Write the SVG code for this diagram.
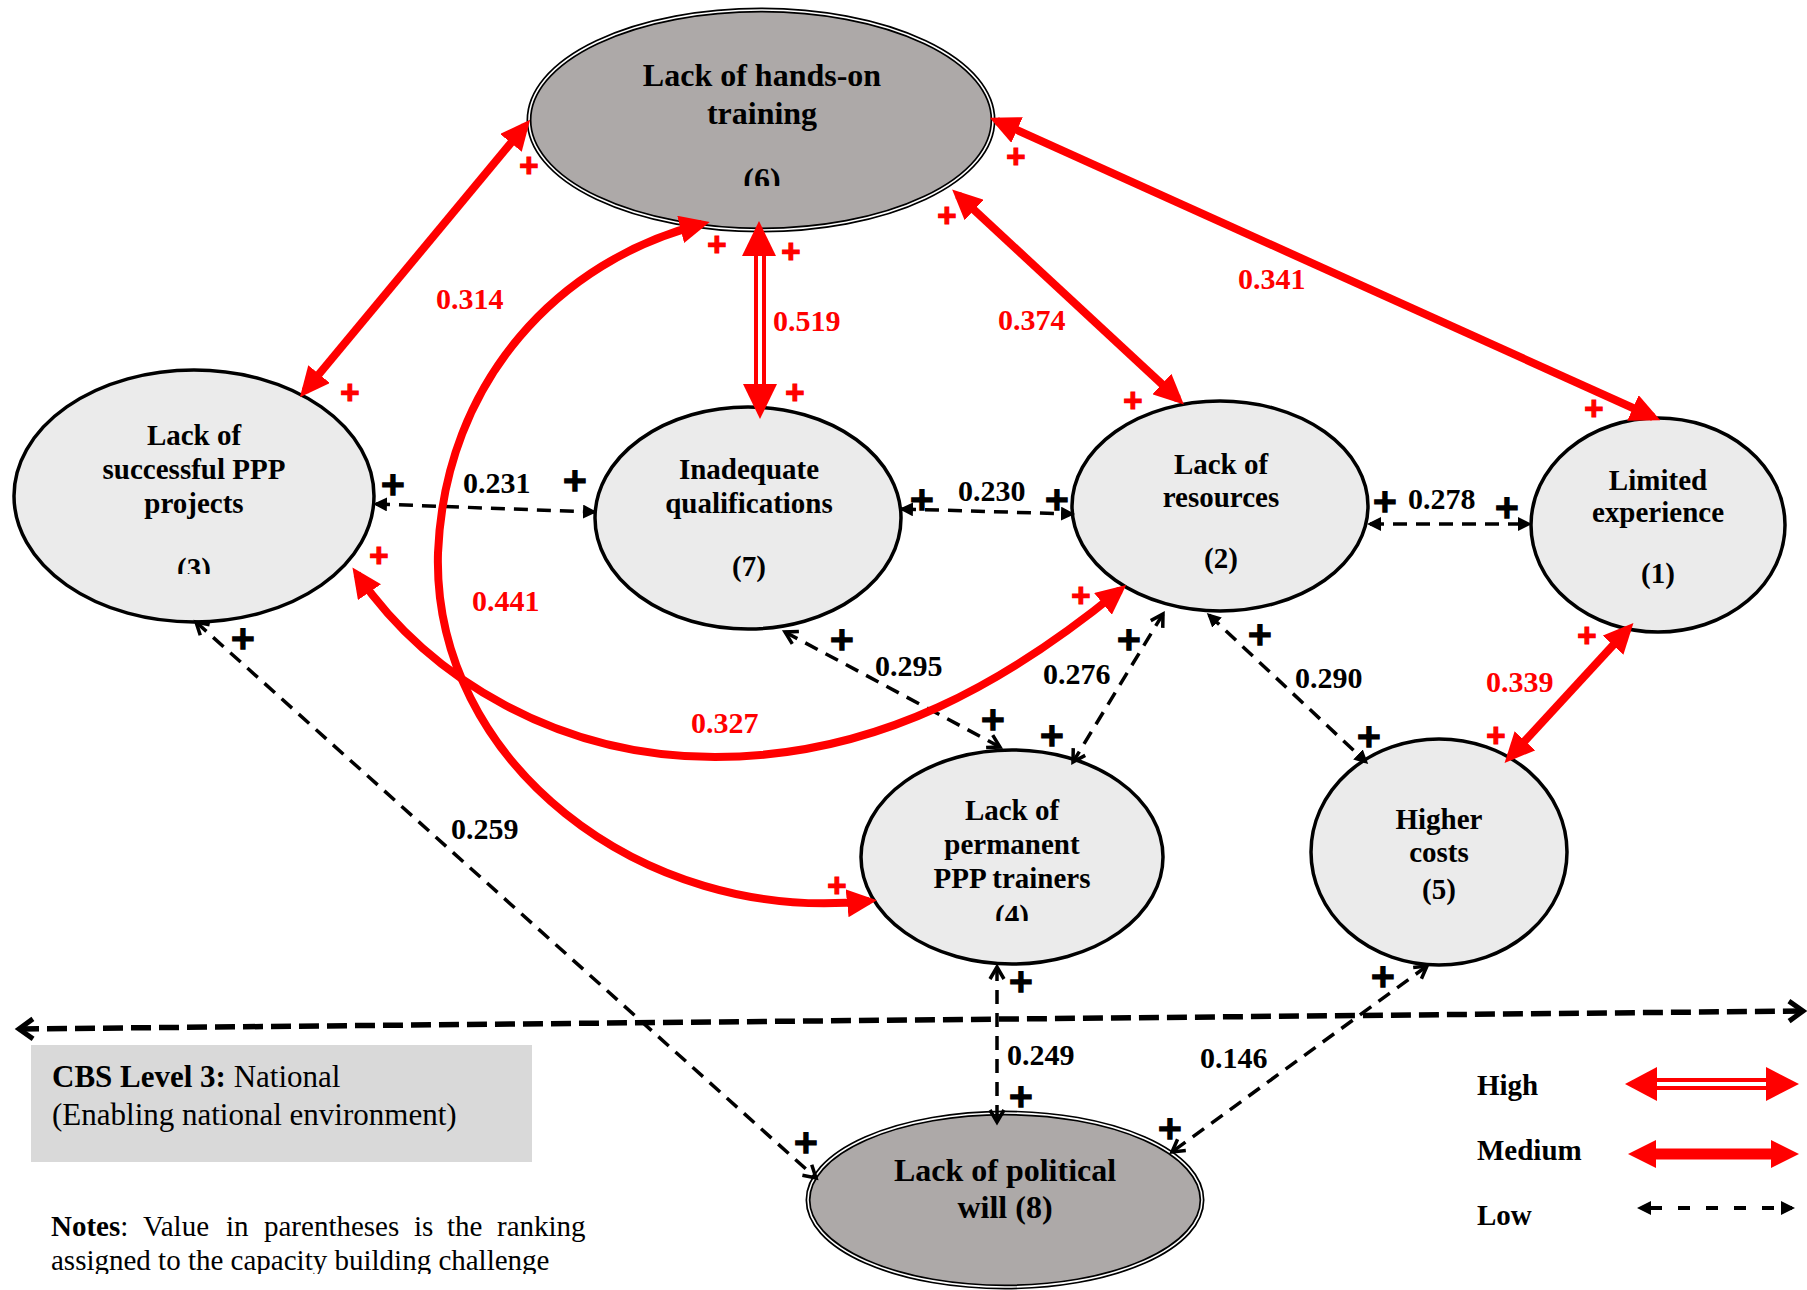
<svg xmlns="http://www.w3.org/2000/svg" width="1807" height="1290" viewBox="0 0 1807 1290">
<style>
.nt{font-family:"Liberation Serif","Times New Roman",serif;font-weight:bold;font-size:29px;fill:#000;text-anchor:middle}
.ntb{font-family:"Liberation Serif","Times New Roman",serif;font-weight:bold;font-size:32px;fill:#000;text-anchor:middle}
.lg{font-family:"Liberation Serif","Times New Roman",serif;font-weight:bold;font-size:29px;fill:#000}
.wn{fill:#EBEBEB;stroke:#000;stroke-width:3.5}
.gn{fill:#ADA9A8;stroke:#000;stroke-width:5}
.gn2{fill:none;stroke:#fff;stroke-width:1.6}
.med{fill:none;stroke:#FF0000;stroke-width:8;marker-start:url(#mr);marker-end:url(#mr)}
.low{fill:none;stroke:#000;stroke-width:3.5;stroke-dasharray:14 9}
.tri{marker-start:url(#mt);marker-end:url(#mt)}
.chv{marker-start:url(#mc);marker-end:url(#mc)}
.lbl{font-family:"Liberation Serif","Times New Roman",serif;font-weight:bold;font-size:30px;fill:#000}
.rl{fill:#FF0000}
.pb{font-family:"DejaVu Sans",sans-serif;font-weight:bold;font-size:32px;fill:#000;stroke:#000;stroke-width:1.6;text-anchor:middle}
.pr{font-family:"Liberation Sans",Arial,sans-serif;font-weight:bold;font-size:33px;fill:#FF0000;stroke:#FF0000;stroke-width:1.2;text-anchor:middle}
.tx{font-family:"Liberation Serif","Times New Roman",serif;font-size:31px;fill:#000}
</style>
<defs>
<marker id="mr" viewBox="0 0 30 28" refX="22" refY="14" markerWidth="30" markerHeight="28" markerUnits="userSpaceOnUse" orient="auto-start-reverse"><path d="M0,0 L30,14 L0,28 Z" fill="#FF0000"/></marker>
<marker id="mt" viewBox="0 0 14 14" refX="11" refY="7" markerWidth="14" markerHeight="14" markerUnits="userSpaceOnUse" orient="auto-start-reverse"><path d="M0,0 L14,7 L0,14 Z" fill="#000"/></marker>
<marker id="mc" viewBox="0 0 14 16" refX="13" refY="8" markerWidth="14" markerHeight="16" markerUnits="userSpaceOnUse" orient="auto-start-reverse" overflow="visible"><path d="M1,1 L13,8 L1,15" fill="none" stroke="#000" stroke-width="3.5" stroke-dasharray="none"/></marker>
<marker id="mcL" viewBox="0 0 16 22" refX="15" refY="11" markerWidth="16" markerHeight="22" markerUnits="userSpaceOnUse" orient="auto-start-reverse" overflow="visible"><path d="M1,1 L15,11 L1,21" fill="none" stroke="#000" stroke-width="5" stroke-dasharray="none"/></marker>
<clipPath id="c6"><rect x="0" y="0" width="1807" height="186"/></clipPath>
<clipPath id="c3"><rect x="0" y="0" width="1807" height="574"/></clipPath>
<clipPath id="c4"><rect x="0" y="0" width="1807" height="921"/></clipPath>
<clipPath id="cn"><rect x="0" y="0" width="1807" height="1274"/></clipPath>
</defs>

<rect x="0" y="0" width="1807" height="1290" fill="#fff"/>

<g id="box-cbs">
<rect x="31" y="1045" width="501" height="117" fill="#D9D9D9"/>
<text class="tx" x="52" y="1087"><tspan font-weight="bold">CBS Level 3:</tspan> National</text>
<text class="tx" x="52" y="1125">(Enabling national environment)</text>
</g>

<g id="notes" clip-path="url(#cn)" font-family="Liberation Serif, Times New Roman, serif" font-size="29" fill="#000">
<text y="1236"><tspan x="51" font-weight="bold">Notes</tspan><tspan>:</tspan><tspan x="143">Value</tspan><tspan x="226">in</tspan><tspan x="264">parentheses</tspan><tspan x="414">is</tspan><tspan x="447">the</tspan><tspan x="497">ranking</tspan></text>
<text x="51" y="1270">assigned to the capacity building challenge</text>
</g>

<g id="node6">
<ellipse class="gn" cx="761" cy="120" rx="232" ry="110"/>
<ellipse class="gn2" cx="761" cy="120" rx="232" ry="110"/>
<text class="ntb" x="762" y="86">Lack of hands-on</text>
<text class="ntb" x="762" y="124">training</text>
<text class="ntb" x="762" y="190" clip-path="url(#c6)">(6)</text>
</g>

<g id="node3">
<ellipse class="wn" cx="194" cy="496" rx="180" ry="126"/>
<text class="nt" x="194" y="445">Lack of</text>
<text class="nt" x="194" y="479">successful PPP</text>
<text class="nt" x="194" y="513">projects</text>
<text class="nt" x="194" y="578" clip-path="url(#c3)">(3)</text>
</g>

<g id="node7">
<ellipse class="wn" cx="748" cy="518" rx="153" ry="111"/>
<text class="nt" x="749" y="479">Inadequate</text>
<text class="nt" x="749" y="513">qualifications</text>
<text class="nt" x="749" y="576">(7)</text>
</g>

<g id="node2">
<ellipse class="wn" cx="1220" cy="506" rx="148" ry="105"/>
<text class="nt" x="1221" y="474">Lack of</text>
<text class="nt" x="1221" y="507">resources</text>
<text class="nt" x="1221" y="568">(2)</text>
</g>

<g id="node1">
<ellipse class="wn" cx="1658" cy="525" rx="127" ry="107"/>
<text class="nt" x="1658" y="490">Limited</text>
<text class="nt" x="1658" y="522">experience</text>
<text class="nt" x="1658" y="583">(1)</text>
</g>

<g id="node4">
<ellipse class="wn" cx="1012" cy="857" rx="151" ry="107"/>
<text class="nt" x="1012" y="820">Lack of</text>
<text class="nt" x="1012" y="854">permanent</text>
<text class="nt" x="1012" y="888">PPP trainers</text>
<text class="nt" x="1012" y="925" clip-path="url(#c4)">(4)</text>
</g>

<g id="node5">
<ellipse class="wn" cx="1439" cy="852" rx="128" ry="113"/>
<text class="nt" x="1439" y="829">Higher</text>
<text class="nt" x="1439" y="862">costs</text>
<text class="nt" x="1439" y="899">(5)</text>
</g>

<g id="node8">
<ellipse class="gn" cx="1005" cy="1200" rx="197" ry="87"/>
<ellipse class="gn2" cx="1005" cy="1200" rx="197" ry="87"/>
<text class="ntb" x="1005" y="1181">Lack of political</text>
<text class="ntb" x="1005" y="1218">will (8)</text>
</g>

<g id="connectors">
<path d="M19,1029 L1803,1011" fill="none" stroke="#000" stroke-width="5.5" stroke-dasharray="20 8" marker-start="url(#mcL)" marker-end="url(#mcL)"/>
<path class="low tri" d="M376,504 L594,512"/>
<path class="low tri" d="M902,509 L1072,514"/>
<path class="low tri" d="M1370,524 L1529,524"/>
<path class="low chv" d="M785,632 L1000,747"/>
<path class="low chv" d="M1163,614 L1073,762"/>
<path class="low tri" d="M1209,615 L1366,762" stroke-dasharray="24 9"/>
<path class="low chv" d="M196,622 L816,1178"/>
<path class="low chv" d="M997,967 L997,1122"/>
<path class="low chv" d="M1427,966 L1172,1152"/>
<path class="med" d="M305,391 L525,126"/>
<path class="med" d="M958,195 L1178,399"/>
<path class="med" d="M997,121 L1653,417"/>
<path class="med" d="M1628,629 L1510,757"/>
<path class="med" d="M702,224 C560,260 445,380 438,553 C432,760 640,925 869,901"/>
<path class="med" d="M357,574 C430,680 560,757 715,757 C880,757 1010,680 1120,590"/>
<g id="high-6-7">
<line x1="760" y1="250" x2="760" y2="392" stroke="#FF0000" stroke-width="12"/>
<line x1="760" y1="256" x2="760" y2="386" stroke="#fff" stroke-width="4"/>
<polygon points="759,221 776,256 742,256" fill="#FF0000"/>
<polygon points="760,419 743,384 777,384" fill="#FF0000"/>
</g>
</g>

<g id="labels">
<text class="lbl rl" x="436" y="309">0.314</text>
<text class="lbl rl" x="773" y="331">0.519</text>
<text class="lbl rl" x="998" y="330">0.374</text>
<text class="lbl rl" x="1238" y="289">0.341</text>
<text class="lbl rl" x="472" y="611">0.441</text>
<text class="lbl rl" x="691" y="733">0.327</text>
<text class="lbl rl" x="1486" y="692">0.339</text>
<text class="lbl" x="463" y="493">0.231</text>
<text class="lbl" x="958" y="501">0.230</text>
<text class="lbl" x="1408" y="509">0.278</text>
<text class="lbl" x="875" y="676">0.295</text>
<text class="lbl" x="1043" y="684">0.276</text>
<text class="lbl" x="1295" y="688">0.290</text>
<text class="lbl" x="451" y="839">0.259</text>
<text class="lbl" x="1007" y="1065">0.249</text>
<text class="lbl" x="1200" y="1068">0.146</text>
</g>

<g id="signs">
<text class="pr" x="529" y="177">+</text>
<text class="pr" x="350" y="404">+</text>
<text class="pr" x="717" y="256">+</text>
<text class="pr" x="791" y="263">+</text>
<text class="pr" x="795" y="404">+</text>
<text class="pr" x="947" y="227">+</text>
<text class="pr" x="1133" y="412">+</text>
<text class="pr" x="1016" y="168">+</text>
<text class="pr" x="1594" y="420">+</text>
<text class="pr" x="379" y="567">+</text>
<text class="pr" x="1081" y="607">+</text>
<text class="pr" x="837" y="897">+</text>
<text class="pr" x="1587" y="647">+</text>
<text class="pr" x="1496" y="747">+</text>
<text class="pb" x="393" y="495">+</text>
<text class="pb" x="575" y="491">+</text>
<text class="pb" x="922" y="510">+</text>
<text class="pb" x="1057" y="510">+</text>
<text class="pb" x="1385" y="512">+</text>
<text class="pb" x="1507" y="518">+</text>
<text class="pb" x="842" y="650">+</text>
<text class="pb" x="993" y="730">+</text>
<text class="pb" x="1129" y="650">+</text>
<text class="pb" x="1052" y="746">+</text>
<text class="pb" x="1260" y="645">+</text>
<text class="pb" x="1369" y="747">+</text>
<text class="pb" x="243" y="649">+</text>
<text class="pb" x="806" y="1153">+</text>
<text class="pb" x="1021" y="992">+</text>
<text class="pb" x="1021" y="1107">+</text>
<text class="pb" x="1383" y="987">+</text>
<text class="pb" x="1170" y="1139">+</text>
</g>

<g id="legend">
<text class="lg" x="1477" y="1095">High</text>
<text class="lg" x="1477" y="1160">Medium</text>
<text class="lg" x="1477" y="1225">Low</text>
<g id="legend-high">
<line x1="1650" y1="1084" x2="1772" y2="1084" stroke="#FF0000" stroke-width="12"/>
<line x1="1655" y1="1084" x2="1768" y2="1084" stroke="#fff" stroke-width="4"/>
<polygon points="1625,1084 1657,1067 1657,1101" fill="#FF0000"/>
<polygon points="1799,1084 1766,1067 1766,1101" fill="#FF0000"/>
</g>
<g id="legend-medium">
<line x1="1650" y1="1154" x2="1778" y2="1154" stroke="#FF0000" stroke-width="11"/>
<polygon points="1628,1154 1656,1140 1656,1168" fill="#FF0000"/>
<polygon points="1799,1154 1771,1140 1771,1168" fill="#FF0000"/>
</g>
<path d="M1640,1208 L1792,1208" fill="none" stroke="#000" stroke-width="4" stroke-dasharray="12 16" stroke-dashoffset="-10" marker-start="url(#mt)" marker-end="url(#mt)"/>
</g>
</svg>
